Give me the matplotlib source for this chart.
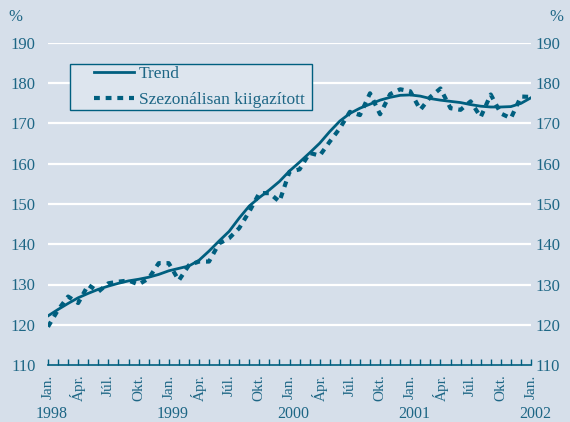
import matplotlib.pyplot as plt
import matplotlib.transforms as mtransforms
from matplotlib.patches import Rectangle
import numpy as np

# months from Jan 1998 (0) to Jan 2002 (48)
trend = [122.2, 123.8, 125.3, 126.7, 127.8, 128.8, 129.6, 130.3, 130.9, 131.3,
         131.8, 132.5, 133.4, 134.0, 134.6, 136.0, 138.3, 140.8, 143.2, 146.5,
         149.5, 151.6, 153.5, 155.6, 158.2, 160.4, 162.7, 165.1, 168.0, 170.6,
         172.5, 173.8, 174.8, 175.8, 176.5, 177.0, 177.1, 176.8, 176.2, 175.8,
         175.5, 175.2, 174.7, 174.3, 174.1, 174.1, 174.2, 175.0, 176.4]
szez = [119.5, 123.7, 127.0, 125.4, 129.9, 128.2, 130.3, 130.7, 131.0, 130.0,
        131.5, 135.3, 135.3, 131.0, 134.8, 135.7, 135.7, 140.2, 141.5, 144.0,
        148.1, 152.7, 152.7, 150.6, 158.0, 158.6, 162.7, 162.0, 165.5, 168.8,
        172.9, 172.1, 177.5, 172.3, 177.3, 178.5, 178.0, 173.4, 176.6, 178.7,
        173.8, 173.4, 175.5, 171.6, 177.2, 172.5, 171.3, 176.7, 176.6]
month_names = ['Jan.', 'Ápr.', 'Júl.', 'Okt.']
years = ['1998', '1999', '2000', '2001', '2002']

bg = '#d6dfea'
col = '#005f7f'
txt = '#1d6685'

plt.rcParams['font.family'] = ['Liberation Serif', 'DejaVu Serif']

fig = plt.figure(figsize=(5.7, 4.22), dpi=100, facecolor=bg)
ax = fig.add_axes([48 / 570, 57 / 422, 483 / 570, 322 / 422], facecolor=bg)

x = np.arange(len(trend))
ax.set_xlim(0, 48)
ax.set_ylim(110, 190)

for v in range(120, 191, 10):
    ax.axhline(v, color='white', lw=1.6, zorder=1)

ax.plot(x, trend, color=col, lw=2.0, zorder=3, label='Trend')
ax.plot(x, szez, color=col, lw=3.0, ls=(0, (1.4, 1.4)), zorder=3,
        label='Szezonálisan kiigazított')

for s in ['top', 'left', 'right']:
    ax.spines[s].set_visible(False)
ax.spines['bottom'].set_color(col)
ax.spines['bottom'].set_linewidth(1.2)

ax.set_xticks(x)
labels = []
for i in x:
    labels.append(month_names[(i // 3) % 4] if i % 3 == 0 else '')
ax.set_xticklabels(labels, rotation=90, color=txt, fontsize=11, va='top')
ax.tick_params(axis='x', direction='in', length=4, width=1, color=col, pad=7)

ax.set_yticks(range(110, 191, 10))
ax.tick_params(axis='y', length=0, labelsize=12, labelcolor=txt, pad=9)

ax2 = ax.twinx()
ax2.set_ylim(110, 190)
ax2.set_yticks(range(110, 191, 10))
ax2.tick_params(axis='y', length=0, labelsize=12, labelcolor=txt, pad=3)
for s in ax2.spines.values():
    s.set_visible(False)

trans = mtransforms.blended_transform_factory(ax.transData, fig.transFigure)
for i, yr in enumerate(years):
    ax.text(i * 12 + 0.4, 8 / 422, yr, transform=trans, ha='center', va='center',
            color=txt, fontsize=11.5)

fig.text(15 / 570, 1 - 17 / 422, '%', ha='center', va='center', color=txt, fontsize=12)
fig.text(556 / 570, 1 - 17 / 422, '%', ha='center', va='center', color=txt, fontsize=12)

box = Rectangle((22 / 483, (365 - 110) / 322), 242 / 483, 46 / 322,
                transform=ax.transAxes, facecolor='#dde5ee', edgecolor=col,
                lw=1.0, zorder=4)
ax.add_patch(box)
leg = ax.legend(loc='upper left', bbox_to_anchor=(46 / 483, (365 - 66) / 322),
                frameon=False, fontsize=12.5, handlelength=2.3,
                handletextpad=0.3, borderpad=0, labelspacing=0.55,
                borderaxespad=0)
leg.set_zorder(5)
for t in leg.get_texts():
    t.set_color(txt)

fig.savefig('out.png', dpi=100, facecolor=bg)
